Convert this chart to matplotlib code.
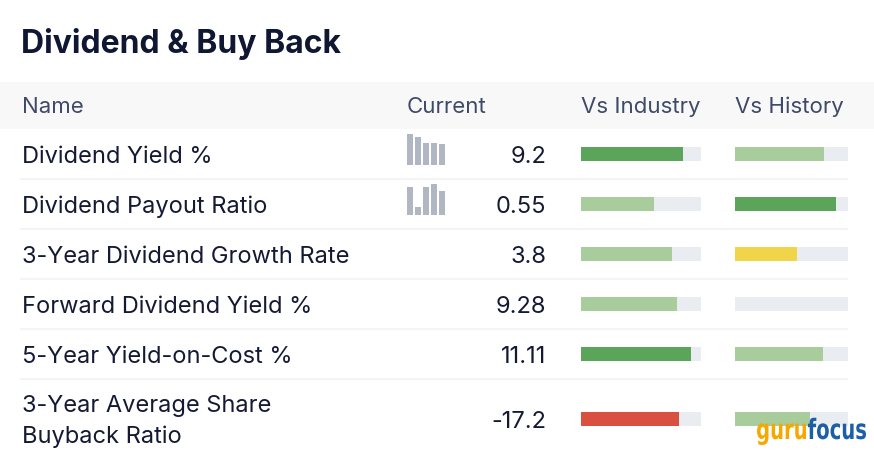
import matplotlib.pyplot as plt
from matplotlib.patches import Rectangle, PathPatch
from matplotlib.textpath import TextPath
from matplotlib.font_manager import FontProperties
from matplotlib.transforms import Affine2D

# ---- data ----
row_names = ["Dividend Yield %", "Dividend Payout Ratio", "3-Year Dividend Growth Rate",
             "Forward Dividend Yield %", "5-Year Yield-on-Cost %",
             "3-Year Average Share\nBuyback Ratio"]
current_vals = ["9.2", "0.55", "3.8", "9.28", "11.11", "-17.2"]
vs_industry = [0.85, 0.61, 0.76, 0.80, 0.92, 0.82]
industry_col = ["dark", "light", "light", "light", "dark", "red"]
vs_history = [0.79, 0.89, 0.55, 0.0, 0.78, 0.66]
history_col = ["light", "dark", "yellow", "light", "light", "light"]
# small history sparklines (only first two rows have them)
spark = {0: [31, 28, 22, 22, 21], 1: [28, 8, 28, 31, 24]}
headers = ["Name", "Current", "Vs Industry", "Vs History"]

COLORS = {"dark": "#5aa55a", "light": "#a8cc9c", "yellow": "#f0d54a", "red": "#d95040"}
BG_BAR = "#e9edf2"
TXT = "#141a33"
HDR = "#3f4a66"

plt.rcParams['font.family'] = ['Inter', 'DejaVu Sans']

fig = plt.figure(figsize=(8.74, 4.58), dpi=100)
ax = fig.add_axes([0, 0, 1, 1])
ax.set_xlim(0, 874)
ax.set_ylim(458, 0)
ax.axis('off')

# title
ax.text(21, 53, "Dividend & Buy Back", fontsize=23, fontweight='bold', color="#0f1733", va='baseline')

# header band
ax.add_patch(Rectangle((0, 82), 874, 47, color="#f8f8f9", lw=0))
hdr_x = [22, 407, 581, 735]
for x, h in zip(hdr_x, headers):
    ax.text(x, 113, h, fontsize=16, color=HDR, va='baseline')

# rows
row_top = [130, 179, 229, 279, 329, 379]
row_mid = [154, 204, 254, 304, 354, 419]
for i, name in enumerate(row_names):
    if i > 0:
        ax.plot([20, 848], [row_top[i], row_top[i]], color="#f4f4f6", lw=1.5, solid_capstyle='butt')
    if "\n" in name:
        l1, l2 = name.split("\n")
        ax.text(22, 412, l1, fontsize=17, color=TXT, va='baseline')
        ax.text(22, 443, l2, fontsize=17, color=TXT, va='baseline')
    else:
        ax.text(22, row_mid[i] + 9, name, fontsize=17, color=TXT, va='baseline')
    ax.text(546, row_mid[i] + 9, current_vals[i], fontsize=17, color=TXT, va='baseline', ha='right')

    # sparkline
    if i in spark:
        vals = spark[i]
        mx = max(vals)
        for j, v in enumerate(vals):
            h = 31 * v / mx
            ax.add_patch(Rectangle((407 + j * 8, row_mid[i] + 11 - h), 6, h, color="#b0b7c3", lw=0))

    # vs industry
    y0 = row_mid[i] - 7
    ax.add_patch(Rectangle((581, y0), 120, 14, color=BG_BAR, lw=0))
    ax.add_patch(Rectangle((581, y0), 120 * vs_industry[i], 14, color=COLORS[industry_col[i]], lw=0))
    # vs history
    ax.add_patch(Rectangle((735, y0), 113, 14, color=BG_BAR, lw=0))
    ax.add_patch(Rectangle((735, y0), 113 * vs_history[i], 14, color=COLORS[history_col[i]], lw=0))


# logo: condensed text drawn as paths
def logo_word(word, x_left, x_right, baseline, color):
    fp = FontProperties(family='DejaVu Sans', weight='bold')
    tp = TextPath((0, 0), word, size=28, prop=fp)
    ext = tp.get_extents()
    sx = (x_right - x_left) / ext.width
    tr = Affine2D().translate(-ext.x0, 0).scale(sx, -1).translate(x_left, baseline)
    ax.add_patch(PathPatch(tr.transform_path(tp), color=color, lw=0))


logo_word("guru", 757, 806, 439, "#f5a800")
logo_word("focus", 808, 866, 439, "#1c5fa8")

fig.savefig("out.png", dpi=100)
